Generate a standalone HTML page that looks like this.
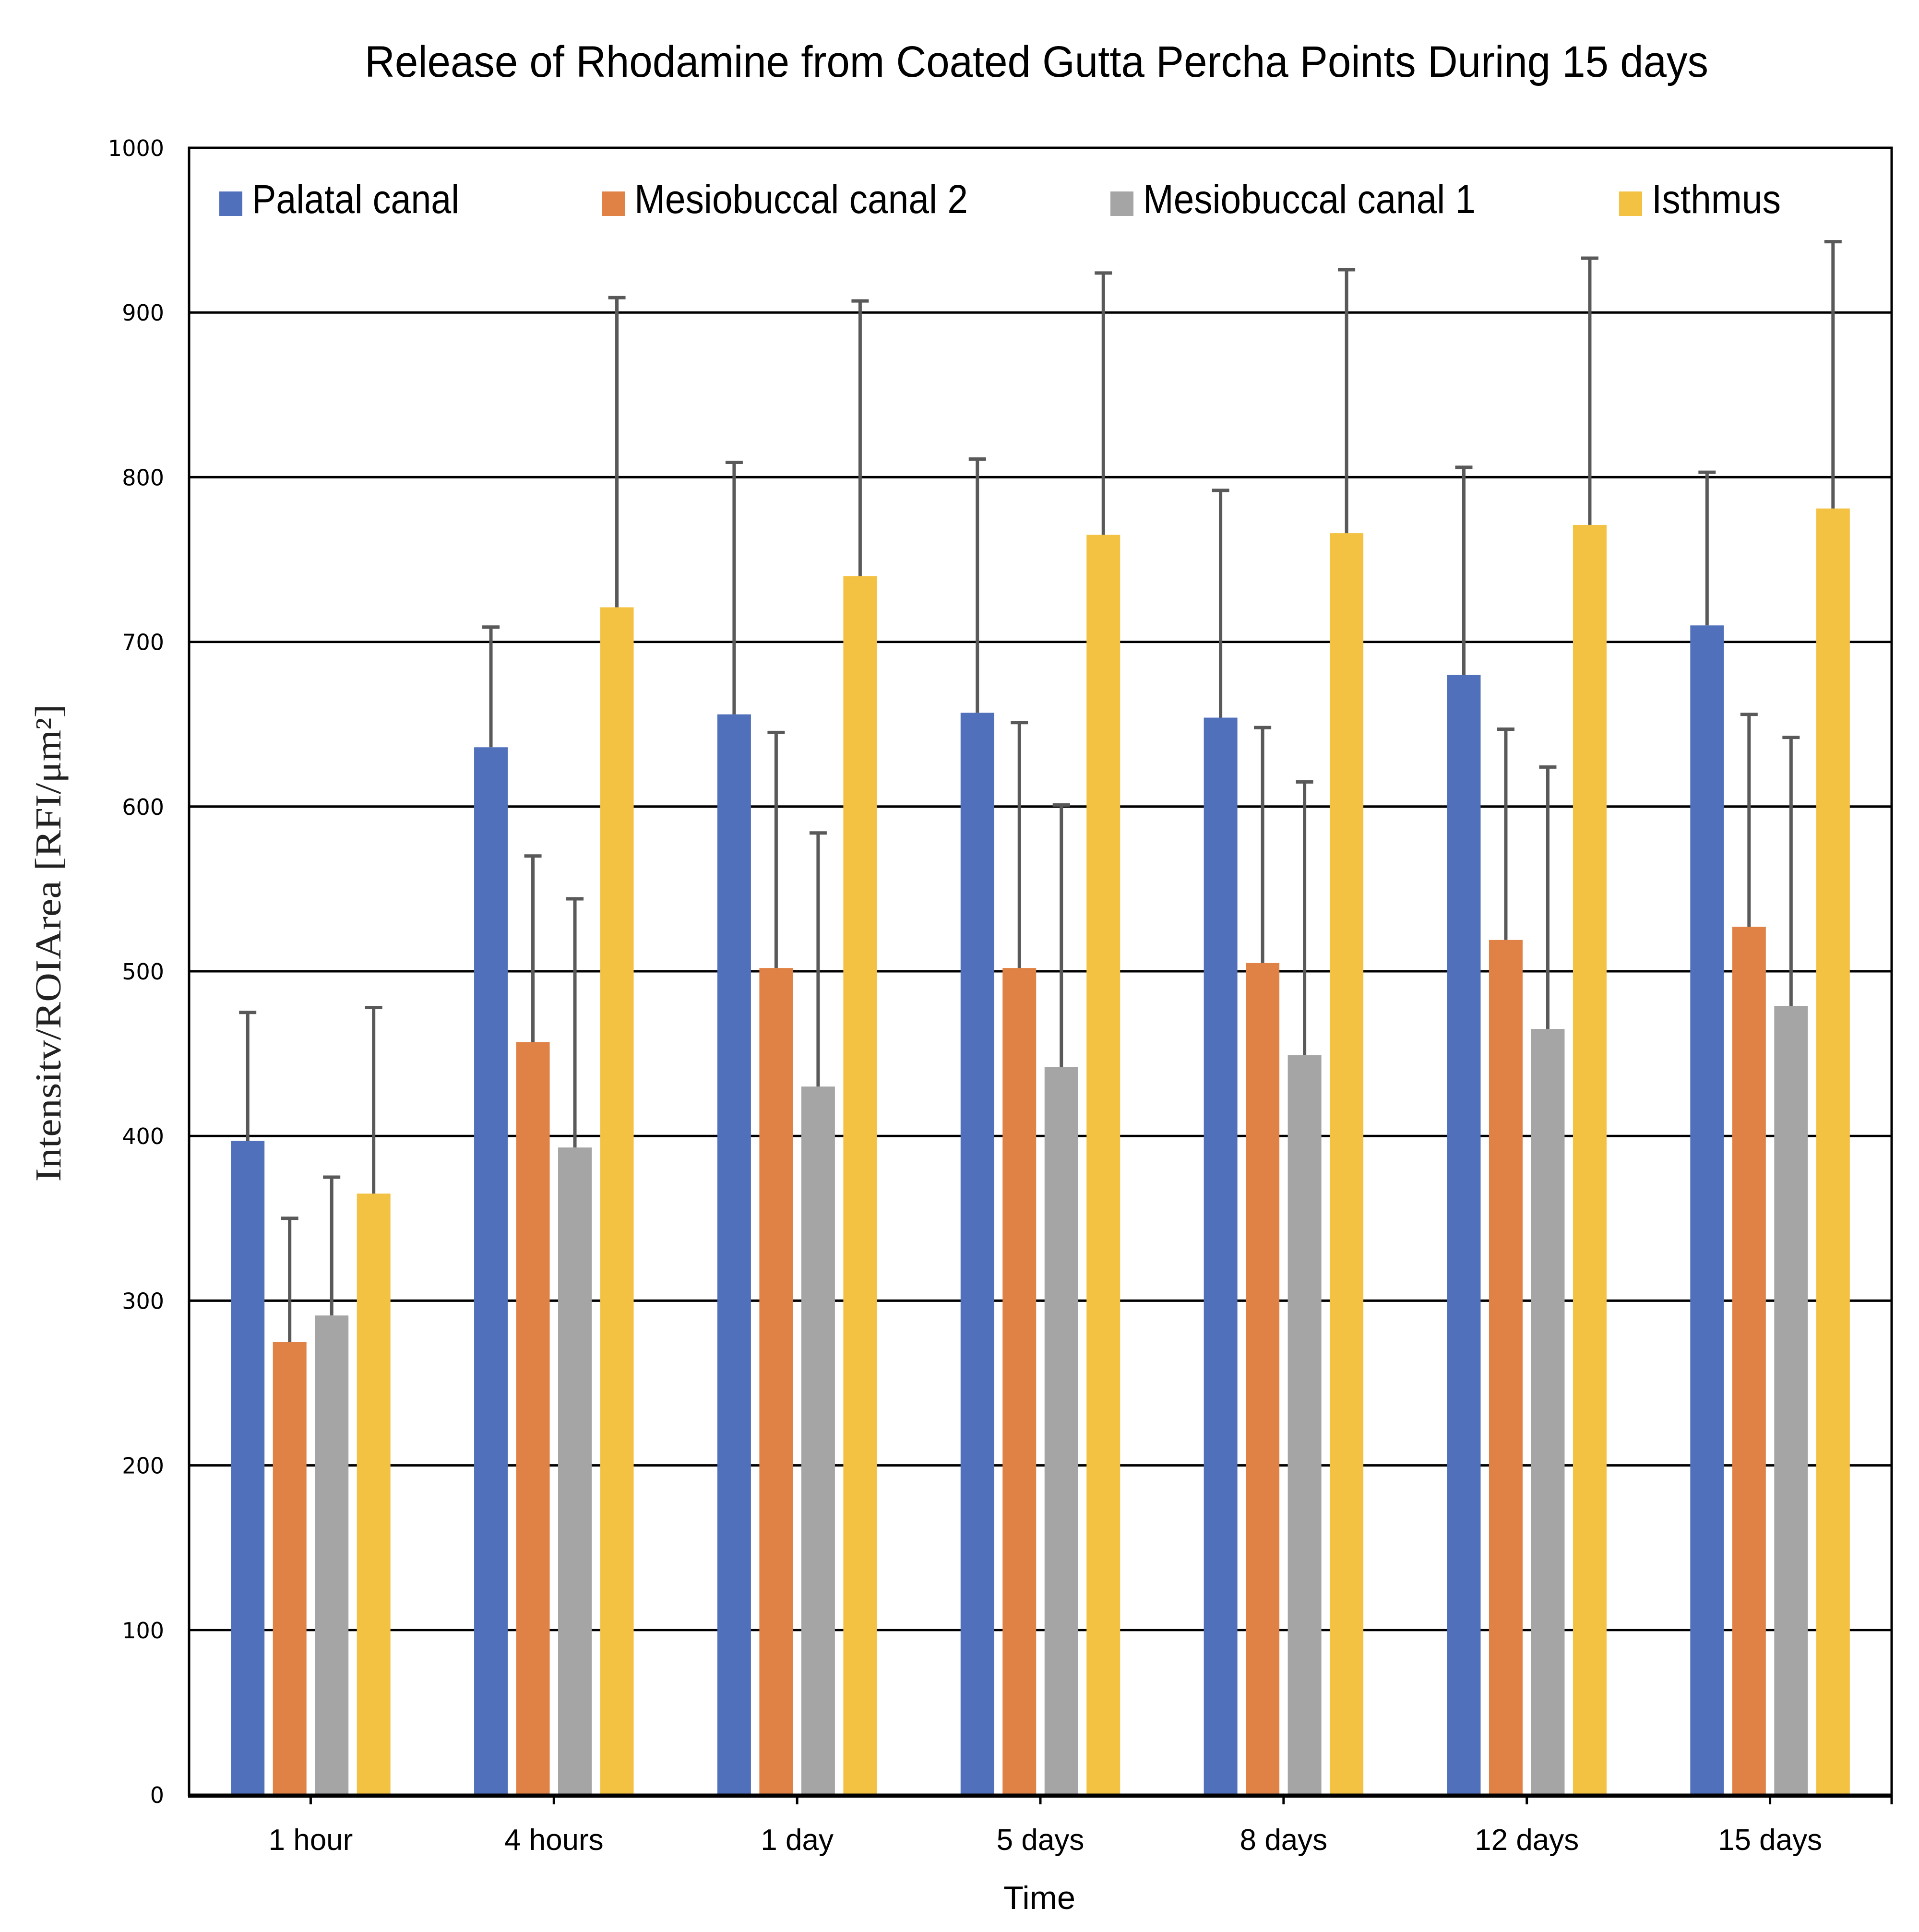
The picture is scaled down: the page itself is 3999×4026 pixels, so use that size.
<!DOCTYPE html>
<html><head><meta charset="utf-8"><style>
html,body{margin:0;padding:0;background:#fff;}
svg{display:block;}
</style></head><body>
<svg id="chart" width="3999" height="4026" viewBox="0 0 3999 4026" xmlns="http://www.w3.org/2000/svg">
<text x="2160" y="160" text-anchor="middle" font-family="Liberation Sans, sans-serif" font-size="92" textLength="2800" lengthAdjust="spacingAndGlyphs">Release of Rhodamine from Coated Gutta Percha Points During 15 days</text>
<g id="grid"></g>
<g id="bars"></g>
<g id="errs"></g>
<g id="axes"></g>
<g id="legend"></g>
<text transform="translate(126,1965) rotate(-90)" text-anchor="middle" font-family="Liberation Serif, serif" font-size="76" fill="#222" textLength="995" lengthAdjust="spacingAndGlyphs">Intensitv/ROIArea [RFI/μm²]</text>
<text x="2166" y="3978" text-anchor="middle" font-family="Liberation Sans, sans-serif" font-size="68" textLength="150" lengthAdjust="spacingAndGlyphs">Time</text>
</svg>
<script>
const categories = ["1 hour","4 hours","1 day","5 days","8 days","12 days","15 days"];
const seriesNames = ["Palatal canal","Mesiobuccal canal 2","Mesiobuccal canal 1","Isthmus"];
const palatal = [397,636,656,657,654,680,710];
const mesio2 = [275,457,502,502,505,519,527];
const mesio1 = [291,393,430,442,449,465,479];
const isthmus = [365,721,740,765,766,771,781];
const palatalErrTop = [475,709,809,811,792,806,803];
const mesio2ErrTop = [350,570,645,651,648,647,656];
const mesio1ErrTop = [375,544,584,601,615,624,642];
const isthmusErrTop = [478,909,907,924,926,933,943];
const yTicks = [0,100,200,300,400,500,600,700,800,900,1000];

const NS="http://www.w3.org/2000/svg";
const L=394,R=3942,T=308,B=3740,YMAX=1000;
const colors=["#5070bc","#e08245","#a5a5a5","#f4c242"];
const series=[palatal,mesio2,mesio1,isthmus];
const errs=[palatalErrTop,mesio2ErrTop,mesio1ErrTop,isthmusErrTop];
const catW=(R-L)/categories.length;
function y(v){return B-(v/YMAX)*(B-T);}
function xc(i){return L+catW*(i+0.5);}
function mk(tag,attrs,parent){const e=document.createElementNS(NS,tag);for(const k in attrs)e.setAttribute(k,attrs[k]);parent.appendChild(e);return e;}
const grid=document.getElementById('grid'),barsG=document.getElementById('bars'),errG=document.getElementById('errs'),axes=document.getElementById('axes'),leg=document.getElementById('legend');

yTicks.forEach(t=>{
  if(t>0){
    const g=mk('line',{x1:L,x2:R,y1:y(t),y2:y(t),stroke:'#000','stroke-width':5},grid);
    
    
  }
  const tx=mk('text',{x:342,y:y(t)+17,'text-anchor':'end','font-family':'DejaVu Sans, sans-serif','font-size':46},axes);
  tx.textContent=t;
  
  
});

const bw=70,step=87.5;
categories.forEach((c,i)=>{
  series.forEach((s,j)=>{
    const cx=xc(i)+(j-1.5)*step;
    const r=mk('rect',{x:cx-bw/2,y:y(s[i]),width:bw,height:B-y(s[i]),fill:colors[j]},barsG);
    
    
    const st=mk('line',{x1:cx,x2:cx,y1:y(s[i]),y2:y(errs[j][i]),stroke:'#595959','stroke-width':7},errG);
    
    
    const cp=mk('line',{x1:cx-18,x2:cx+18,y1:y(errs[j][i]),y2:y(errs[j][i]),stroke:'#595959','stroke-width':7},errG);
    
    
  });
  const tk=mk('line',{x1:xc(i),x2:xc(i),y1:B,y2:B+20,stroke:'#000','stroke-width':5},axes);
  
  
  const lb=mk('text',{x:xc(i),y:3855,'text-anchor':'middle','font-family':'Liberation Sans, sans-serif','font-size':62},axes);
  lb.textContent=c;
  
  
});
const tk0=mk('line',{x1:R,x2:R,y1:B,y2:B+20,stroke:'#000','stroke-width':5},axes);



const frame=mk('rect',{x:L,y:T,width:R-L,height:B-T,fill:'none',stroke:'#000','stroke-width':5},axes);


const xa=mk('line',{x1:L-2,x2:R+2,y1:B+2,y2:B+2,stroke:'#000','stroke-width':8},axes);



const legX=[457,1254,2314,3374],legW=[432,695,693,269];
seriesNames.forEach((n,j)=>{
  const g=mk('g',{},leg);
  
  
  mk('rect',{x:legX[j],y:399,width:48,height:51,fill:colors[j]},g);
  const t=mk('text',{x:legX[j]+68,y:444,'font-family':'Liberation Sans, sans-serif','font-size':84,textLength:legW[j],lengthAdjust:'spacingAndGlyphs'},g);
  t.textContent=n;
});
</script>
</body></html>
